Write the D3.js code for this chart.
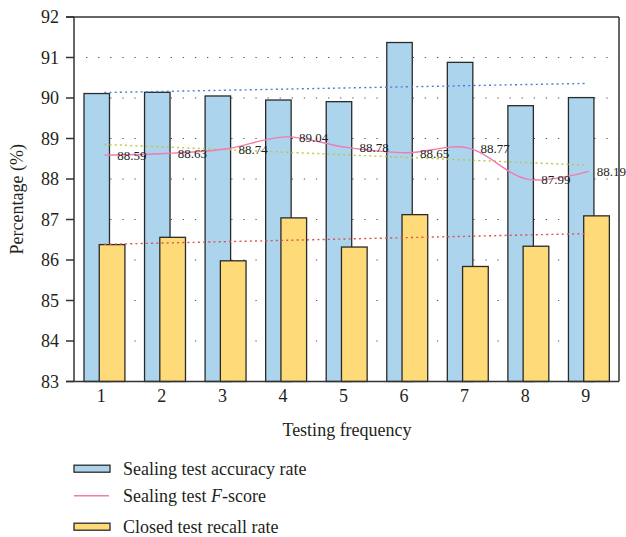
<!DOCTYPE html>
<html>
<head>
<meta charset="utf-8">
<script src="https://cdn.jsdelivr.net/npm/d3@7"></script>
<style>
  html, body { margin: 0; padding: 0; background: #fff; }
  svg { display: block; }
  text { font-family: "Liberation Serif", "DejaVu Serif", serif; fill: #231f20; }
</style>
</head>
<body>
<svg id="chart" width="626" height="537"></svg>
<script>
// ---- data ----
const categories = ["1", "2", "3", "4", "5", "6", "7", "8", "9"];
const accuracyRate = [90.11, 90.14, 90.05, 89.95, 89.91, 91.37, 90.88, 89.81, 90.01];
const fScore = [88.59, 88.63, 88.74, 89.04, 88.78, 88.65, 88.77, 87.99, 88.19];
const recallRate = [86.38, 86.56, 85.98, 87.04, 86.32, 87.12, 85.84, 86.34, 87.09];
const yTicks = [83, 84, 85, 86, 87, 88, 89, 90, 91, 92];
const legendLabels = ["Sealing test accuracy rate", "Sealing test F-score", "Closed test recall rate"];

// ---- layout ----
const svg = d3.select("#chart");
const L = 74, R = 619, T = 17, B = 381.5;
const x = d3.scaleBand().domain(categories).range([L, R]).padding(0);
const y = d3.scaleLinear().domain([83, 92]).range([B, T]);
const bw = x.bandwidth();
const cx = c => x(c) + bw / 2;

// grid
svg.append("g").selectAll("line")
  .data(yTicks.filter(t => t > 83 && t < 92))
  .join("line")
  .attr("x1", L + 12).attr("x2", R)
  .attr("y1", d => y(d)).attr("y2", d => y(d))
  .attr("stroke", "#555").attr("stroke-width", 1.2)
  .attr("stroke-dasharray", "1.3,10.8");

// bars
const blue = "#acd4ec", yellow = "#fedb78", edge = "#2a2a2a";
svg.append("g").selectAll("rect")
  .data(categories)
  .join("rect")
  .attr("x", (c) => cx(c) - bw * 0.335)
  .attr("width", bw * 0.421)
  .attr("y", (c, i) => y(accuracyRate[i]))
  .attr("height", (c, i) => y(83) - y(accuracyRate[i]))
  .attr("fill", blue).attr("stroke", edge).attr("stroke-width", 1.3);

svg.append("g").selectAll("rect")
  .data(categories)
  .join("rect")
  .attr("x", (c) => cx(c) - bw * 0.083)
  .attr("width", bw * 0.424)
  .attr("y", (c, i) => y(recallRate[i]))
  .attr("height", (c, i) => y(83) - y(recallRate[i]))
  .attr("fill", yellow).attr("stroke", edge).attr("stroke-width", 1.3);

// linear trend lines (least squares on each series)
function trend(vals) {
  const n = vals.length, xs = vals.map((v, i) => i + 1);
  const mx = d3.mean(xs), my = d3.mean(vals);
  const slope = d3.sum(xs.map((xv, i) => (xv - mx) * (vals[i] - my))) / d3.sum(xs.map(xv => (xv - mx) ** 2));
  return [1, n].map(xv => my + slope * (xv - mx));
}
const trends = [
  { vals: accuracyRate, color: "#4a7fcf" },
  { vals: fScore, color: "#b9c93a" },
  { vals: recallRate, color: "#d9534c" }
];
trends.forEach(t => {
  const [a, b] = trend(t.vals);
  svg.append("line")
    .attr("x1", cx(categories[0])).attr("x2", cx(categories[categories.length - 1]) - 2)
    .attr("y1", y(a)).attr("y2", y(b))
    .attr("stroke", t.color).attr("stroke-width", 1.4)
    .attr("stroke-dasharray", "2,3.2");
});

// F-score smooth line
const line = d3.line()
  .x((d, i) => cx(categories[i]))
  .y(d => y(d))
  .curve(d3.curveCatmullRom.alpha(0.5));
svg.append("path")
  .datum(fScore)
  .attr("d", line)
  .attr("fill", "none").attr("stroke", "#f07bb0").attr("stroke-width", 1.4);

svg.append("g").selectAll("text")
  .data(fScore)
  .join("text")
  .attr("x", (d, i) => cx(categories[i]) + (i === 8 ? 8 : 13))
  .attr("y", d => y(d) + 5)
  .attr("font-size", 13)
  .text(d => d.toFixed(2));

// frame
const frame = svg.append("g").attr("stroke", "#333").attr("stroke-width", 1.5).attr("fill", "none");
frame.append("line").attr("x1", L - 8).attr("x2", R).attr("y1", T).attr("y2", T);
frame.append("line").attr("x1", L - 8).attr("x2", R).attr("y1", B).attr("y2", B);
frame.append("line").attr("x1", L).attr("x2", L).attr("y1", T).attr("y2", B);
frame.append("line").attr("x1", R).attr("x2", R).attr("y1", T).attr("y2", B);

// y axis ticks
svg.append("g").selectAll("line")
  .data(yTicks)
  .join("line")
  .attr("x1", L - 8).attr("x2", L)
  .attr("y1", d => y(d)).attr("y2", d => y(d))
  .attr("stroke", "#333").attr("stroke-width", 1.5);
svg.append("g").selectAll("text")
  .data(yTicks)
  .join("text")
  .attr("x", 59)
  .attr("y", d => y(d))
  .attr("dy", "0.35em")
  .attr("text-anchor", "end")
  .attr("font-size", 18)
  .text(d => d);

// x tick labels
svg.append("g").selectAll("text")
  .data(categories)
  .join("text")
  .attr("x", c => cx(c) - 3)
  .attr("y", 402)
  .attr("text-anchor", "middle")
  .attr("font-size", 18)
  .text(c => c);

// axis titles
svg.append("text")
  .attr("x", 347).attr("y", 436)
  .attr("text-anchor", "middle")
  .attr("font-size", 18)
  .text("Testing frequency");
svg.append("text")
  .attr("transform", `translate(23,${(T + B) / 2}) rotate(-90)`)
  .attr("text-anchor", "middle")
  .attr("font-size", 18)
  .text("Percentage (%)");

// legend
const lg = svg.append("g");
const ly = [468.7, 495.7, 526.7];
lg.append("rect").attr("x", 74).attr("y", ly[0] - 3.5).attr("width", 36).attr("height", 7)
  .attr("fill", blue).attr("stroke", edge).attr("stroke-width", 1.3);
lg.append("line").attr("x1", 74).attr("x2", 109).attr("y1", ly[1]).attr("y2", ly[1])
  .attr("stroke", "#f07bb0").attr("stroke-width", 1.4);
lg.append("rect").attr("x", 74).attr("y", ly[2] - 3.5).attr("width", 36).attr("height", 7)
  .attr("fill", yellow).attr("stroke", edge).attr("stroke-width", 1.3);

const t0 = lg.append("text").attr("x", 123).attr("y", ly[0] + 6).attr("font-size", 18).text(legendLabels[0]);
const t1 = lg.append("text").attr("x", 123).attr("y", ly[1] + 6).attr("font-size", 18);
t1.append("tspan").text("Sealing test ");
t1.append("tspan").attr("font-style", "italic").text("F");
t1.append("tspan").text("-score");
const t2 = lg.append("text").attr("x", 123).attr("y", ly[2] + 6).attr("font-size", 18).text(legendLabels[2]);
</script>
</body>
</html>
